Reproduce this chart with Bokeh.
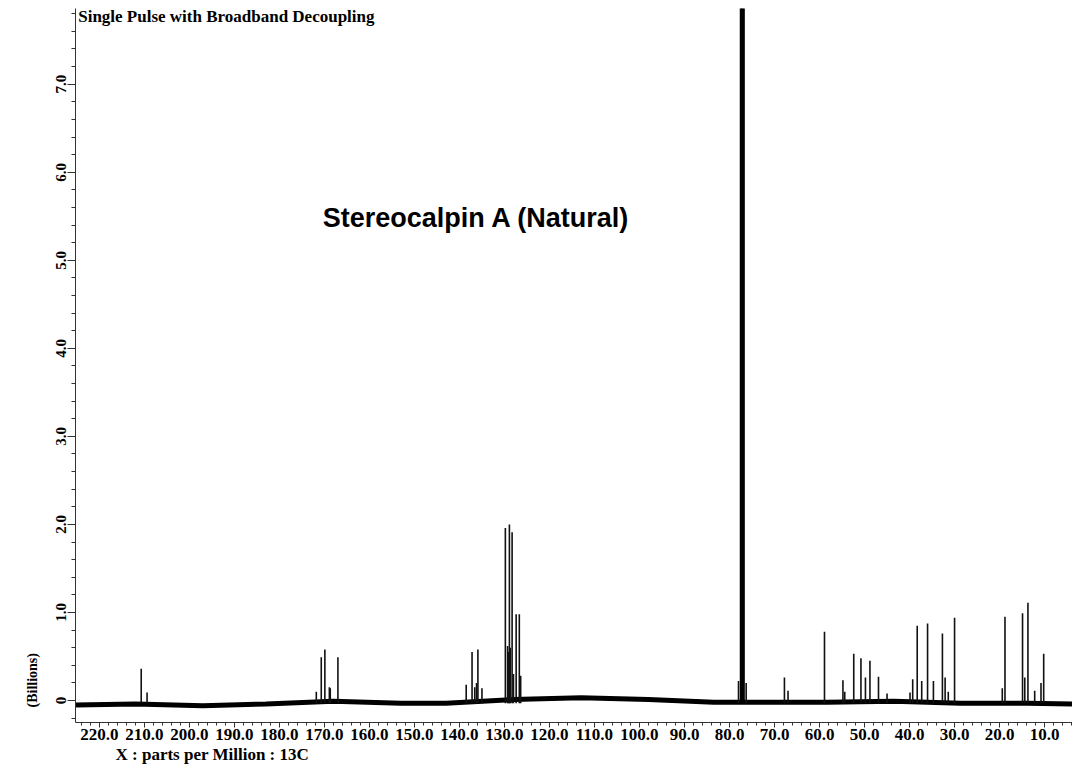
import numpy as np
from bokeh.plotting import figure
from bokeh.models import Range1d, FixedTicker, Label, Title
from bokeh.embed import file_html
from bokeh.resources import INLINE

# ---------------- data ----------------
# chemical shift (ppm) and peak height (billions)
peak_ppm = [210.7, 209.4,
            171.8, 170.7, 169.9, 168.9, 168.7, 167.0,
            138.5, 137.2, 136.6, 136.2, 135.9, 135.0,
            129.8, 129.3, 129.1, 128.9, 128.7, 128.3, 128.0, 127.4, 126.7, 126.4,
            78.0, 76.3,
            67.8, 67.0, 58.9, 54.8, 54.4, 52.4, 50.8, 49.8, 48.8, 46.9, 45.0,
            39.9, 39.3, 38.3, 37.3, 36.0, 34.7, 32.7, 32.1, 31.4, 30.0,
            19.4, 18.8, 14.9, 14.4, 13.7, 12.2, 10.8, 10.2]
peak_height = [0.36, 0.09,
               0.10, 0.49, 0.58, 0.15, 0.14, 0.49,
               0.18, 0.55, 0.15, 0.20, 0.58, 0.14,
               1.96, 0.62, 0.55, 2.00, 0.60, 1.91, 0.30, 0.98, 0.98, 0.28,
               0.22, 0.20,
               0.26, 0.11, 0.78, 0.23, 0.10, 0.53, 0.48, 0.26, 0.45, 0.27, 0.08,
               0.09, 0.24, 0.85, 0.22, 0.875, 0.22, 0.76, 0.26, 0.10, 0.94,
               0.14, 0.95, 0.99, 0.26, 1.11, 0.11, 0.20, 0.53]
# CDCl3 solvent triplet (off scale)
solvent_ppm = [77.48, 77.16, 76.84]
solvent_height = [20.0, 20.0, 20.0]
# baseline level
base_ppm = [225.3, 212.0, 197.0, 183.0, 168.0, 153.0, 143.0, 128.0, 113.0,
            98.0, 83.5, 68.7, 58.3, 43.5, 28.7, 13.8, 3.8]
base_level = [-0.05, -0.04, -0.06, -0.04, -0.01, -0.03, -0.03, 0.01, 0.03,
              0.01, -0.02, -0.02, -0.02, -0.01, -0.03, -0.03, -0.04]

x_ticks = [220, 210, 200, 190, 180, 170, 160, 150, 140, 130, 120, 110,
           100, 90, 80, 70, 60, 50, 40, 30, 20, 10]
y_ticks = [0, 1, 2, 3, 4, 5, 6, 7]

# ---------------- figure ----------------
p = figure(width=1072, height=766, output_backend="svg", toolbar_location=None,
           x_range=Range1d(225.3, 3.8), y_range=Range1d(-0.25, 7.86),
           min_border_left=75, min_border_right=0, min_border_top=8,
           min_border_bottom=44)
p.outline_line_color = None
p.grid.visible = False
p.background_fill_color = "white"
p.border_fill_color = "white"

serif = "Liberation Serif"

# x axis
xa = p.xaxis[0]
xa.ticker = FixedTicker(ticks=x_ticks, minor_ticks=list(np.arange(4, 226, 2)))
xa.major_label_overrides = {t: f"{t:.1f}" for t in x_ticks}
xa.major_label_text_font = serif
xa.major_label_text_font_style = "bold"
xa.major_label_text_font_size = "17px"
xa.major_label_text_color = "black"
xa.major_tick_out = 5
xa.major_tick_in = 0
xa.minor_tick_out = 3
xa.minor_tick_in = 0
xa.major_label_standoff = 1
xa.axis_line_color = "#333"
xa.major_tick_line_color = "#333"
xa.minor_tick_line_color = "#333"

# y axis
ya = p.yaxis[0]
ya.ticker = FixedTicker(ticks=y_ticks, minor_ticks=list(np.round(np.arange(-0.2, 7.9, 0.2), 2)))
ya.major_label_overrides = {t: ("0" if t == 0 else f"{t:.1f}") for t in y_ticks}
ya.major_label_orientation = "vertical"
ya.major_label_text_font = serif
ya.major_label_text_font_style = "bold"
ya.major_label_text_font_size = "15px"
ya.major_label_text_color = "black"
ya.major_tick_out = 8
ya.major_tick_in = 0
ya.minor_tick_out = 4
ya.minor_tick_in = 0
ya.major_label_standoff = 1
ya.axis_line_color = "#333"
ya.major_tick_line_color = "#333"
ya.minor_tick_line_color = "#333"

# axis captions as side titles
p.add_layout(Title(text="X : parts per Million : 13C", align="left", offset=40,
                   text_font=serif, text_font_style="bold", text_font_size="17px",
                   standoff=0, text_color="black"), "below")
p.add_layout(Title(text="(Billions)", align="left", offset=15,
                   text_font=serif, text_font_style="bold", text_font_size="14px",
                   standoff=28, text_color="black"), "left")

# spectrum
p.line(base_ppm, base_level, line_color="black", line_width=5)
p.segment(x0=peak_ppm, y0=[-0.03] * len(peak_ppm), x1=peak_ppm, y1=peak_height,
          line_color="#111111", line_width=1.6)
p.segment(x0=solvent_ppm, y0=[-0.03] * 3, x1=solvent_ppm, y1=solvent_height,
          line_color="black", line_width=2.2)

# texts inside the frame
p.add_layout(Label(x=224.7, y=7.77, text="Single Pulse with Broadband Decoupling",
                   text_font=serif, text_font_style="bold", text_font_size="17px",
                   text_align="left", text_baseline="middle", text_color="black"))
p.add_layout(Label(x=136.2, y=5.48, text="Stereocalpin A (Natural)",
                   text_font="Liberation Sans", text_font_style="bold",
                   text_font_size="27px", text_align="center",
                   text_baseline="middle", text_color="black"))

open("out.html", "w").write(file_html(p, INLINE))
